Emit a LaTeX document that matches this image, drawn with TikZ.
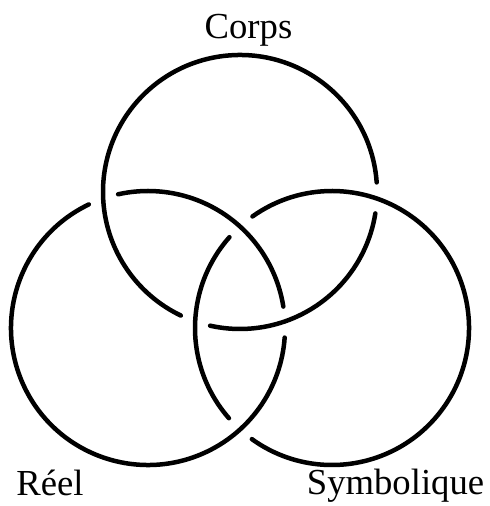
\documentclass[tikz,border=0pt]{standalone}
\usepackage{fontspec}
\setmainfont{Liberation Serif}
\usepackage{tikz}
\usetikzlibrary{positioning}

\begin{document}
\begin{tikzpicture}[
  x=0.3pt, y=0.3pt,
  ring/.style={line width=1.35pt, line cap=round, color=black},
  lbl/.style={inner sep=0pt, anchor=base, font=\fontsize{11}{13}\selectfont},
]
  \useasboundingbox (0,0) rectangle (489,506);

  % ring centres
  \coordinate (cT) at (240,314);
  \coordinate (cL) at (148,178);
  \coordinate (cR) at (332,178);

  % Corps ring (under Symbolique)
  \draw[ring] ([shift={(4:137)}]cT) arc[start angle=4, end angle=244.4, radius=137];
  \draw[ring] ([shift={(257.4:137)}]cT) arc[start angle=257.4, end angle=351, radius=137];

  % Reel ring (under Corps)
  \draw[ring] ([shift={(9:137)}]cL) arc[start angle=9, end angle=102.6, radius=137];
  \draw[ring] ([shift={(115.6:137)}]cL) arc[start angle=115.6, end angle=356, radius=137];

  % Symbolique ring (under Reel)
  \draw[ring] ([shift={(138.5:137)}]cR) arc[start angle=138.5, end angle=221.2, radius=137];
  \draw[ring] ([shift={(234.2:137)}]cR) arc[start angle=234.2, end angle=485.5, radius=137];

  % labels
  \node[lbl] (corps) at (248.5,467) {Corps};
  \node[lbl] (reel) at (50,10) {Réel};
  \node[lbl] (symb) at (395.5,11) {Symbolique};
\end{tikzpicture}
\end{document}
